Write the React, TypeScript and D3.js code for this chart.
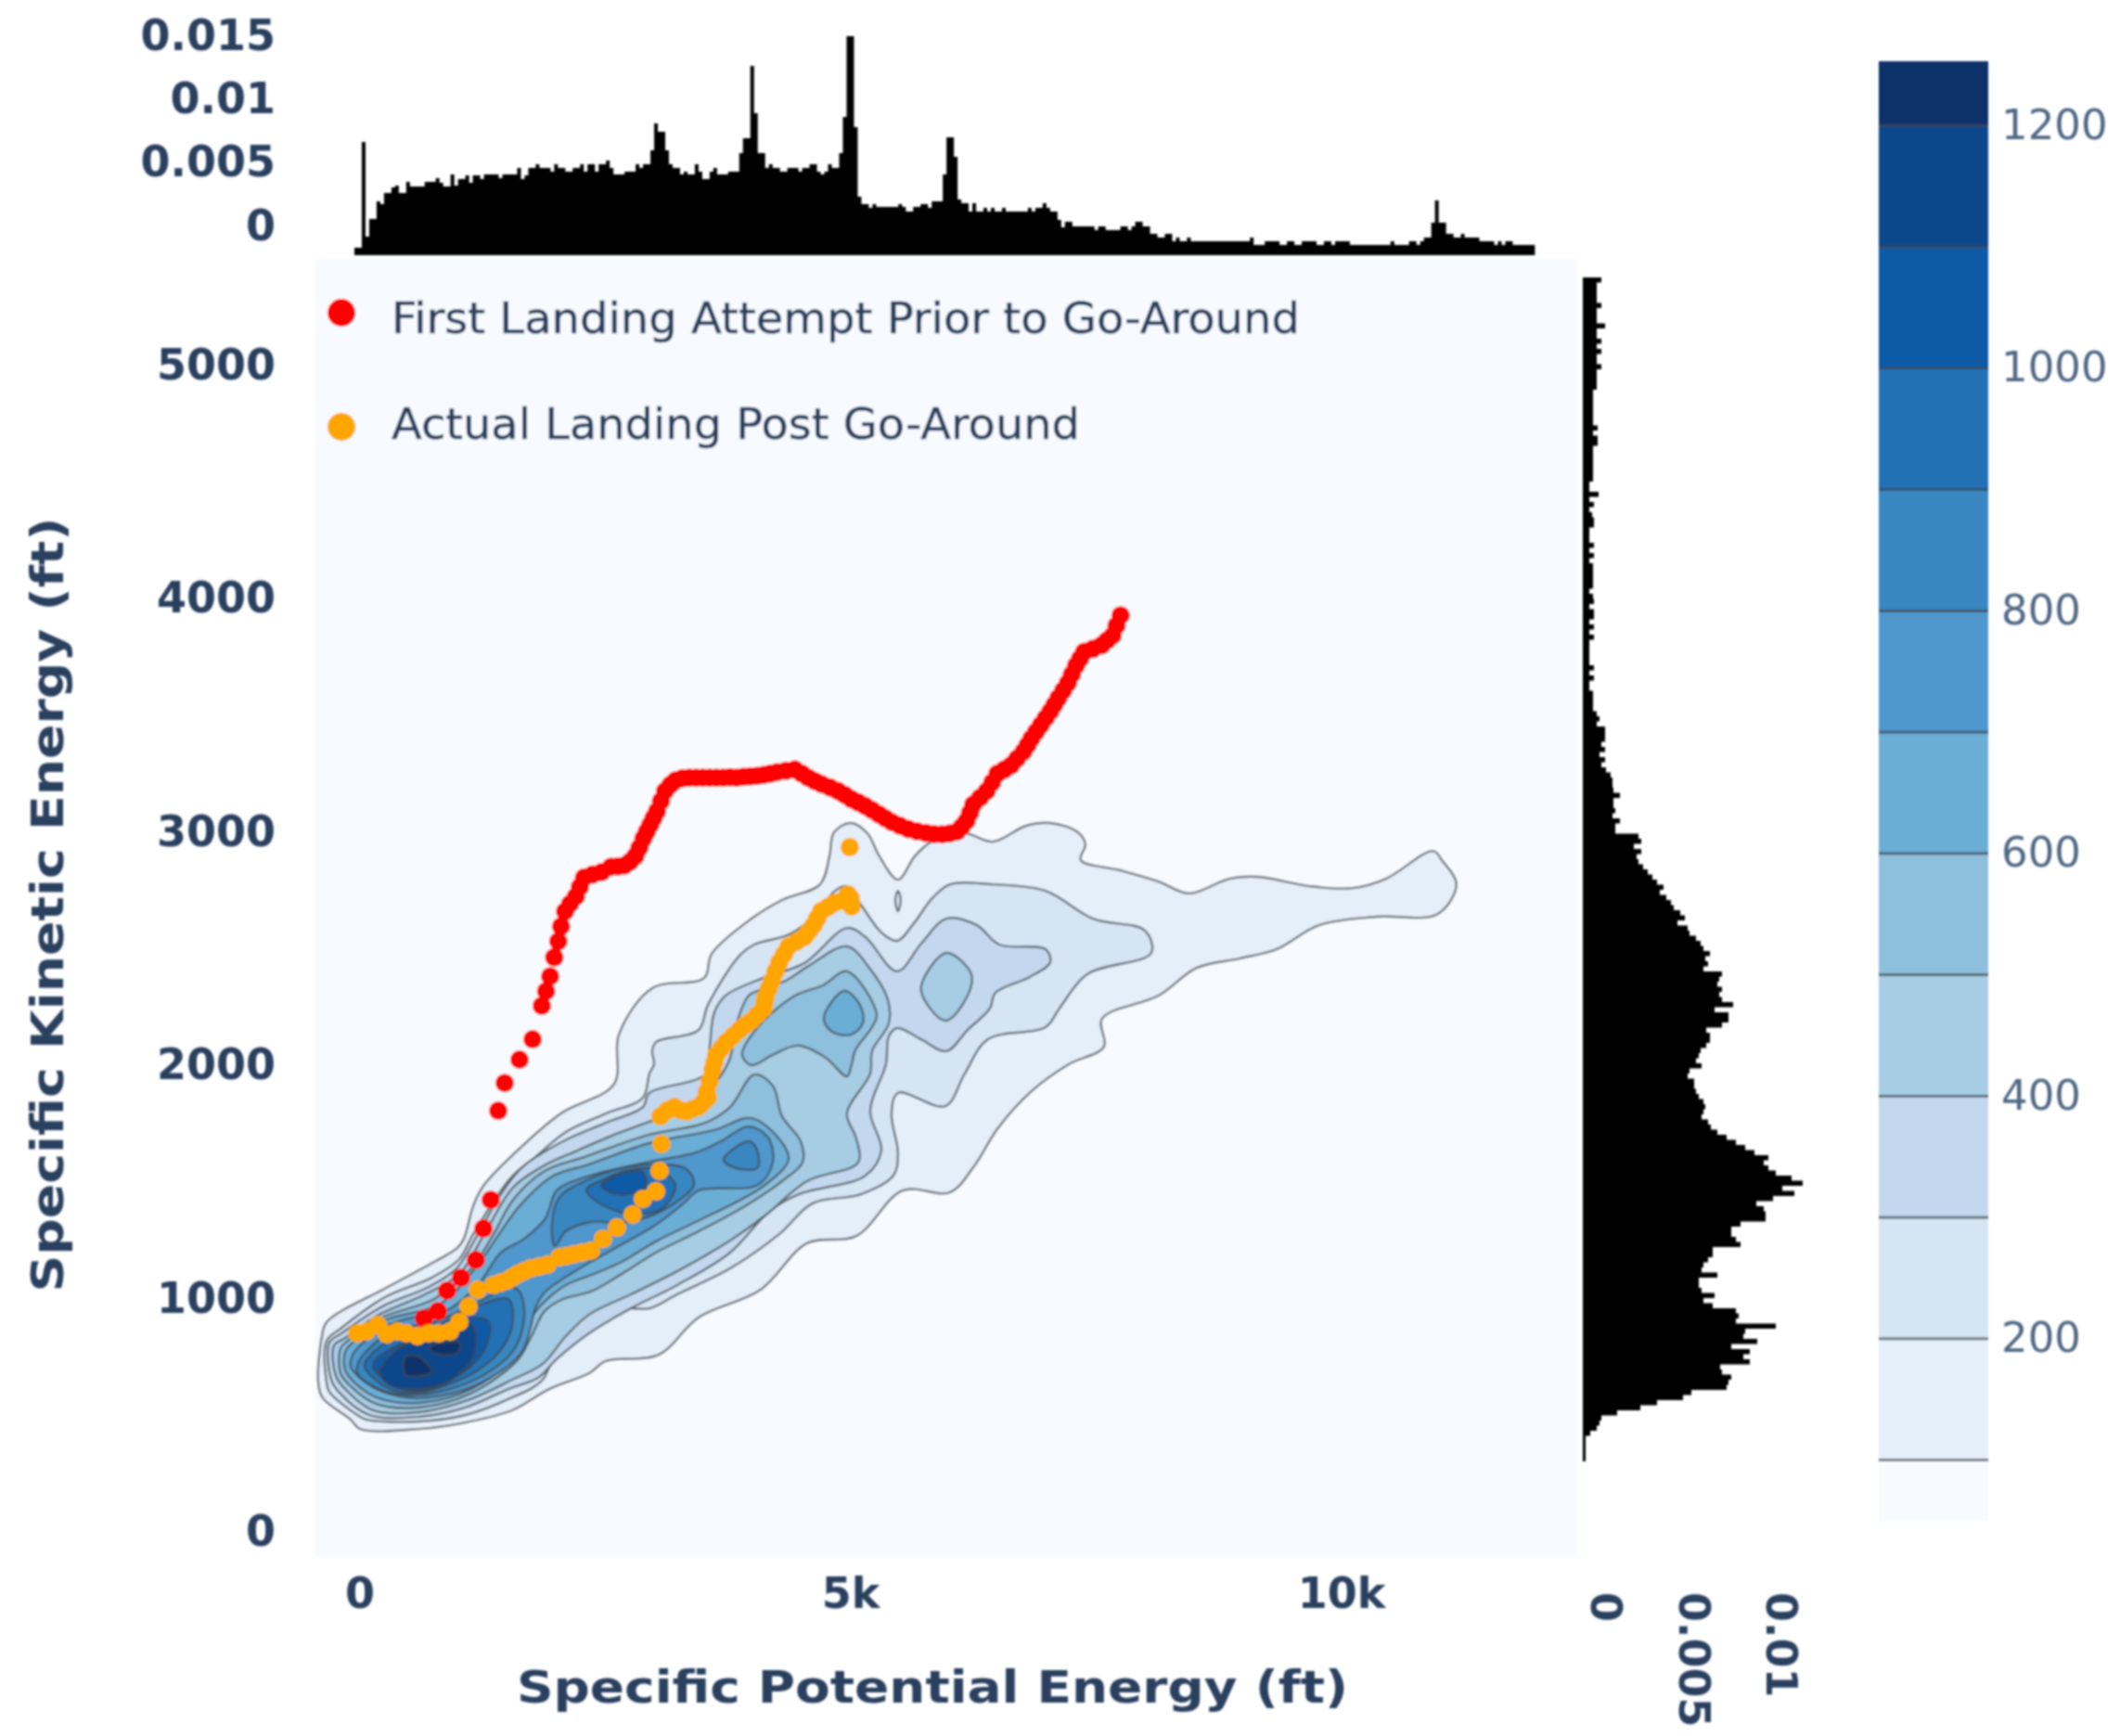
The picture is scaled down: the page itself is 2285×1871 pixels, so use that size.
import React from "react";
import * as d3 from "d3";

type P = [number, number];

// ---- contour levels and band colours (Blues)
const levels = [100, 200, 300, 400, 500, 600, 700, 800, 900, 1000, 1100, 1200];
const bandColors = ["#f7fbff", "#e4eff9", "#d5e5f4", "#c3d8ee", "#a6cde3", "#8ebfdc", "#6aaed6", "#5097cc", "#3787c0", "#2171b5", "#0f5aa6", "#08468b", "#08306b"];

// ---- traced contours, in (potential ft, kinetic ft)
const ring100: P[] = [[-425,628],[-387,827],[-340,887],[284,1038],[756,1145],[992,1205],[1058,1244],[1153,1384],[1257,1471],[1654,1642],[2060,1785],[2589,1908],[2637,2119],[2977,2318],[3506,2362],[3582,2465],[3988,2616],[4300,2696],[4687,2763],[4782,2883],[4829,2986],[4999,3026],[5169,2982],[5292,2883],[5481,2783],[5651,2883],[5821,2946],[6161,2982],[6445,2946],[6785,3014],[7031,3026],[7314,2986],[7390,2934],[7343,2867],[7749,2823],[8136,2775],[8448,2724],[8855,2787],[9148,2795],[9677,2755],[10112,2747],[10452,2787],[10934,2906],[11028,2863],[11170,2763],[10981,2636],[10357,2624],[9771,2588],[9337,2485],[8959,2445],[8524,2405],[8136,2286],[7560,2187],[7579,2067],[7220,1992],[6832,1873],[6492,1714],[6256,1555],[6010,1443],[5528,1451],[5056,1256],[4555,1225],[4082,1026],[3449,907],[3043,747],[2504,720],[2334,668],[1928,600],[1550,509],[1077,457],[605,429],[0,429],[-95,469],[-378,561]];
const ring200: P[] = [[-340,628],[-340,807],[-198,859],[255,994],[728,1077],[1011,1157],[1153,1264],[1531,1503],[1786,1594],[2098,1702],[2504,1781],[2882,1849],[2948,1952],[2996,1992],[2977,2048],[3015,2087],[3449,2139],[3544,2246],[3865,2457],[4016,2505],[4375,2549],[4649,2636],[4838,2735],[4961,2755],[5103,2676],[5311,2557],[5472,2521],[5642,2596],[5831,2704],[6010,2763],[6445,2763],[6984,2735],[7466,2616],[7995,2565],[8061,2469],[7409,2378],[7125,2231],[6984,2151],[6398,2099],[6161,1952],[5963,1813],[5481,1869],[5415,1781],[5481,1610],[5434,1515],[5103,1435],[4612,1396],[4271,1264],[3771,1117],[3232,1006],[2948,946],[2504,946],[2410,879],[2032,799],[1862,640],[1512,557],[1077,489],[605,461],[66,469],[-28,489],[-312,588]];
const ring200b: P[] = [[5481,2735],[5509,2696],[5481,2648],[5453,2696]];
const ring300: P[] = [[-293,640],[-312,799],[-189,839],[227,954],[699,1038],[983,1117],[1200,1264],[1436,1435],[1654,1551],[2070,1662],[2504,1741],[2882,1809],[2948,1869],[3515,1949],[3562,2067],[3610,2214],[3723,2286],[4110,2362],[4526,2425],[4961,2576],[5150,2537],[5472,2390],[5717,2509],[5973,2616],[6285,2588],[6511,2505],[6984,2485],[7031,2429],[6823,2366],[6473,2298],[6417,2231],[6190,2139],[5973,2048],[5717,2099],[5472,2147],[5387,2111],[5358,1992],[5198,1793],[5311,1623],[5150,1515],[4470,1435],[4176,1364],[3771,1185],[3232,1046],[2760,946],[2334,839],[2003,728],[1814,648],[1512,600],[1077,521],[605,481],[95,489],[-217,588]];
const ring400: P[] = [[-246,656],[-265,787],[-151,819],[189,918],[662,1006],[1011,1093],[1266,1264],[1559,1464],[1862,1555],[2211,1622],[2589,1690],[2967,1749],[3373,1809],[3657,1932],[3771,2020],[3846,2179],[3959,2286],[4101,2314],[4337,2350],[4583,2417],[4961,2497],[5188,2406],[5377,2270],[5387,2167],[5217,2048],[5198,1952],[4961,1781],[5056,1674],[5075,1571],[4555,1491],[4129,1344],[3771,1237],[3232,1105],[2760,1006],[2334,919],[2098,827],[1862,708],[1550,640],[1077,549],[605,501],[132,509],[-151,600]];
const ring400b: P[] = [[5717,2326],[5973,2469],[6228,2378],[6190,2286],[5973,2179],[5783,2246]];
const ring500: P[] = [[4016,1948],[4205,1901],[4300,1769],[4489,1662],[4508,1571],[4300,1491],[3922,1384],[3449,1276],[3015,1185],[2665,1093],[2353,1018],[2070,986],[1881,934],[1748,827],[1597,720],[1106,577],[605,521],[161,537],[-104,616],[-198,668],[-198,775],[-123,807],[227,907],[756,986],[1134,1117],[1361,1264],[1559,1411],[1881,1535],[2287,1595],[2948,1690],[3515,1741],[3771,1809]];
const ring500b: P[] = [[4961,2390],[5264,2207],[5216,2151],[5046,2052],[5009,1992],[4961,1940],[4744,2020],[4460,2072],[4205,2032],[3988,1988],[3893,2032],[4054,2151],[4432,2286],[4716,2330]];
const ring600: P[] = [[3988,1761],[4290,1662],[4366,1582],[4129,1475],[3846,1404],[3420,1316],[3015,1233],[2665,1145],[2381,1093],[2098,1046],[1909,986],[1767,919],[1550,736],[1134,600],[605,541],[189,561],[-57,628],[-151,680],[-151,759],[-76,799],[255,895],[822,966],[1200,1133],[1417,1264],[1625,1384],[1956,1511],[2334,1563],[2948,1654],[3610,1710]];
const ring600b: P[] = [[4725,2191],[4933,2306],[5094,2246],[5122,2167],[4999,2119],[4810,2131]];
const ring700: P[] = [[3960,1725],[4158,1678],[4205,1571],[4054,1475],[3449,1451],[3298,1396],[3015,1304],[2570,1197],[2192,1105],[1881,1014],[1786,946],[1739,867],[1644,756],[1200,620],[605,561],[227,589],[0,648],[-95,696],[-76,747],[0,787],[284,875],[539,907],[869,934],[1200,1046],[1436,1185],[1673,1245],[1890,1332],[1928,1372],[2003,1451],[2315,1511],[2948,1574],[3421,1614],[3676,1662]];
const ring800a: P[] = [[1956,1304],[2032,1423],[2287,1491],[2650,1545],[3015,1563],[3326,1543],[3402,1475],[3204,1396],[2920,1336],[2665,1312],[2353,1316],[2098,1276],[1985,1213]];
const ring800b: P[] = [[3704,1582],[3960,1662],[4035,1634],[4054,1551],[3865,1543]];
const ring800c: P[] = [[-28,668],[-9,720],[95,775],[350,855],[756,887],[1134,958],[1578,1034],[1673,946],[1578,775],[1172,640],[605,575],[255,590]];
const ring900a: P[] = [[2306,1455],[2504,1503],[2700,1535],[3015,1543],[3213,1475],[3071,1372],[2731,1352],[2410,1404]];
const ring900c: P[] = [[47,696],[95,740],[378,827],[756,867],[1134,946],[1512,986],[1559,907],[1484,799],[1200,680],[605,585],[302,600]];
const ring1000a: P[] = [[2457,1471],[2637,1520],[2882,1530],[2901,1463],[2637,1435]];
const ring1000c: P[] = [[132,696],[180,736],[444,799],[756,855],[1172,907],[1314,887],[1276,775],[1077,680],[605,592],[350,615]];
const ring1100: P[] = [[200,668],[380,770],[756,835],[1130,880],[1160,747],[900,630],[567,600],[340,610]];
const ring1200a: P[] = [[463,736],[586,740],[728,676],[473,660]];
const ring1200b: P[] = [[709,779],[1011,799],[992,755],[756,755]];

const contourRings: { level: number; ring: P[] }[] = [
  { level: 100, ring: ring100 }, { level: 200, ring: ring200 }, { level: 200, ring: ring200b },
  { level: 300, ring: ring300 }, { level: 400, ring: ring400 }, { level: 400, ring: ring400b },
  { level: 500, ring: ring500 }, { level: 500, ring: ring500b }, { level: 600, ring: ring600 }, { level: 600, ring: ring600b },
  { level: 700, ring: ring700 }, { level: 800, ring: ring800a }, { level: 800, ring: ring800b }, { level: 800, ring: ring800c },
  { level: 900, ring: ring900a }, { level: 900, ring: ring900c }, { level: 1000, ring: ring1000a }, { level: 1000, ring: ring1000c },
  { level: 1100, ring: ring1100 }, { level: 1200, ring: ring1200a }, { level: 1200, ring: ring1200b },
];

// ---- scatter series
const firstAttempt: P[] = [[652,903],[794,934],[888,1022],[1030,1077],[1181,1153],[1257,1288],[1332,1411],[1408,1793],[1474,1912],[1625,2012],[1758,2099],[1852,2243],[1896,2305],[1937,2369],[1979,2450],[2020,2519],[2048,2583],[2089,2647],[2140,2680],[2199,2711],[2240,2752],[2282,2792],[2370,2805],[2461,2815],[2557,2838],[2628,2840],[2695,2844],[2750,2860],[2805,2884],[2847,2920],[2888,2960],[2922,2990],[2956,3018],[2990,3047],[3025,3076],[3066,3120],[3108,3163],[3163,3190],[3218,3209],[3287,3218],[3356,3220],[3425,3220],[3493,3220],[3562,3220],[3631,3220],[3700,3220],[3770,3222],[3838,3220],[3907,3224],[3975,3226],[4044,3228],[4113,3232],[4182,3238],[4251,3244],[4340,3250],[4430,3255],[4500,3238],[4567,3220],[4636,3205],[4705,3192],[4790,3178],[4870,3163],[4940,3146],[5008,3128],[5077,3114],[5146,3099],[5215,3082],[5284,3064],[5352,3046],[5421,3029],[5503,3014],[5586,3000],[5675,2990],[5765,2983],[5848,2978],[5931,2977],[6007,2981],[6082,2989],[6130,3010],[6179,3035],[6215,3070],[6247,3105],[6316,3134],[6385,3163],[6440,3200],[6495,3238],[6564,3255],[6633,3273],[6695,3302],[6757,3331],[6800,3360],[6840,3388],[6888,3417],[6936,3446],[6984,3475],[7032,3504],[7074,3533],[7115,3562],[7163,3594],[7211,3626],[7252,3663],[7294,3701],[7335,3730],[7377,3759],[7466,3772],[7556,3788],[7611,3808],[7666,3829],[7707,3872],[7749,3916]];
const actualLanding: P[] = [[-28,839],[66,847],[180,875],[274,835],[378,847],[473,839],[586,827],[699,839],[803,839],[917,847],[1011,887],[1106,954],[1200,1026],[1361,1046],[1430,1056],[1503,1066],[1555,1080],[1607,1093],[1670,1105],[1739,1117],[1825,1125],[1909,1133],[2032,1165],[2100,1170],[2174,1177],[2260,1185],[2353,1193],[2476,1244],[2618,1292],[2778,1348],[2882,1415],[3015,1447],[3052,1535],[3071,1650],[3062,1769],[3133,1795],[3204,1809],[3265,1795],[3326,1789],[3388,1800],[3449,1809],[3497,1830],[3544,1849],[3534,1873],[3562,1920],[3591,1968],[3610,2000],[3629,2032],[3680,2060],[3733,2087],[3800,2113],[3865,2139],[3926,2160],[3988,2179],[4050,2205],[4111,2231],[4120,2255],[4130,2278],[4163,2315],[4196,2350],[4233,2390],[4271,2429],[4318,2463],[4366,2497],[4446,2517],[4527,2537],[4574,2563],[4621,2588],[4659,2618],[4697,2648],[4767,2666],[4838,2684],[4918,2694],[4970,2720],[4999,2704],[5009,2668],[4990,2922]];

// ---- marginal histogram counts per bin
const topCounts = [8,8,122,20,39,39,58,55,67,67,73,75,67,67,79,74,74,74,74,79,79,79,83,78,74,74,87,75,82,82,86,78,86,86,82,87,87,87,87,83,87,87,87,87,94,82,86,94,94,98,94,94,94,90,98,94,94,90,90,94,94,98,90,98,98,90,98,98,102,94,87,87,87,90,90,90,98,94,98,98,113,142,133,133,113,98,94,94,87,90,87,87,98,90,82,82,90,94,87,87,87,90,90,90,110,126,126,204,153,110,110,94,98,94,94,90,90,94,94,94,90,94,94,98,98,90,87,90,98,94,94,110,149,236,236,138,63,55,55,51,55,52,52,52,52,52,52,55,52,47,47,52,52,55,55,51,58,58,58,87,
  127,127,106,60,56,56,47,56,47,47,51,47,51,47,47,51,47,47,47,47,47,47,51,47,51,51,56,51,47,47,38,30,36,36,31,31,31,31,31,31,27,31,31,27,27,27,27,31,31,27,31,36,36,31,31,23,23,19,19,23,23,15,19,15,15,19,15,15,15,15,15,15,15,15,15,15,15,15,15,15,15,15,19,11,11,11,15,15,15,15,11,11,15,15,11,11,15,15,15,15,11,11,15,15,11,15,15,15,15,11,11,11,11,11,11,11,11,11,11,11,15,11,11,11,11,15,15,11,15,19,19,35,59,35,35,23,23,19,19,23,19,19,19,19,15,15,15,15,11,15,11,15,15,11,11,11,11,11,11];
const rightCounts = [20,15,15,15,15,20,15,15,15,24,15,15,20,15,20,15,15,20,15,15,15,15,11,11,11,11,11,11,11,16,11,16,16,11,11,11,11,11,11,11,7,7,17,7,12,7,10,12,12,7,7,7,12,7,12,7,11,11,11,11,11,7,11,12,7,12,12,7,12,7,12,7,7,7,7,7,12,7,12,7,7,11,11,11,11,15,18,15,24,24,24,20,24,18,24,20,25,30,32,32,33,40,33,33,35,32,40,35,35,60,63,55,63,58,60,65,70,75,80,87,83,90,95,98,105,110,102,113,115,122,127,130,137,132,135,130,150,147,145,150,147,150,
  162,142,157,157,150,133,137,137,133,127,125,122,128,115,113,120,120,122,125,130,132,130,128,135,138,145,155,165,175,185,200,195,200,208,225,237,215,228,205,187,195,197,197,170,160,160,165,170,140,140,135,130,128,145,125,125,128,142,130,140,165,168,165,208,175,173,188,160,180,173,180,148,150,160,157,155,117,108,80,62,37,20,18,15,8,3,3,3,3,3];
const topBinStart = -57;
const topBinWidth = 37.7;
const rightBinStart = 5364;
const rightBinHeight = 21.87;

// ---- tick labels
const xTicks = [0, 5000, 10000];
const xTickLabels = ["0", "5k", "10k"];
const yTicks = [0, 1000, 2000, 3000, 4000, 5000];
const topTicks = [0, 0.005, 0.01, 0.015];
const topTickLabels = ["0", "0.005", "0.01", "0.015"];
const rightTicks = [0, 0.005, 0.01];
const rightTickLabels = ["0", "0.005", "0.01"];
const colorbarTicks = [200, 400, 600, 800, 1000, 1200];
const legendItems = [
  { label: "First Landing Attempt Prior to Go-Around", color: "#ff0000" },
  { label: "Actual Landing Post Go-Around", color: "#ffa500" },
];

const W = 2285, H = 1871;
const FONT = "'DejaVu Sans', Verdana, sans-serif";
const AXIS = "#2a3f5f";
const LINE = "#40474f";

export default function App() {
  const x = d3.scaleLinear().domain([0, 10000]).range([388, 1446]);
  const y = d3.scaleLinear().domain([0, 5000]).range([1648, 390.5]);
  const topY = d3.scaleLinear().domain([0, 240]).range([275, 35]);
  const rightX = d3.scaleLinear().domain([0, 237]).range([1706, 1943]);
  const topLabelY = d3.scaleLinear().domain([0, 0.015]).range([242, 37]);
  const rightLabelX = d3.scaleLinear().domain([0, 0.01]).range([1732, 1921]);
  const cb = d3.scaleLinear().domain([50, 1253]).range([1639, 66]);
  const band = d3.scaleThreshold<number, string>().domain(levels).range(bandColors);
  const ring = d3.line<P>().x((d) => x(d[0])).y((d) => y(d[1])).curve(d3.curveCatmullRomClosed.alpha(0.5));

  const topSeries = [...topCounts, topCounts[topCounts.length - 1]];
  const topArea = d3.area<number>()
    .x((_, i) => x(topBinStart + i * topBinWidth))
    .y0(topY(0))
    .y1((v) => topY(v))
    .curve(d3.curveStepAfter);
  const rightSeries = [...rightCounts, rightCounts[rightCounts.length - 1]];
  const rightArea = d3.area<number>()
    .y((_, i) => y(rightBinStart - i * rightBinHeight))
    .x0(rightX(0))
    .x1((v) => rightX(v))
    .curve(d3.curveStepBefore);

  const cbEdges = [50, ...levels, 1253];

  return (
    <svg width={W} height={H} viewBox={`0 0 ${W} ${H}`} style={{ position: "absolute", left: 0, top: 0, background: "#fff" }} fontFamily={FONT}>
      <defs>
        <filter id="soft" filterUnits="userSpaceOnUse" x={0} y={0} width={W} height={H}>
          <feGaussianBlur stdDeviation={0.9} />
        </filter>
      </defs>
      <g filter="url(#soft)">
        {/* main panel */}
        <rect x={339} y={279} width={1361} height={1399} fill={bandColors[0]} />
        {contourRings.map((c, i) => (
          <path key={i} d={ring(c.ring) as string} fill={band(c.level)} stroke={LINE} strokeOpacity={0.75} strokeWidth={2.4} />
        ))}
        {firstAttempt.map((d, i) => <circle key={i} cx={x(d[0])} cy={y(d[1])} r={10} fill={legendItems[0].color} />)}
        {actualLanding.map((d, i) => <circle key={i} cx={x(d[0])} cy={y(d[1])} r={10} fill={legendItems[1].color} />)}

        {/* legend */}
        {legendItems.map((l, i) => (
          <g key={l.label}>
            <circle cx={368} cy={i === 0 ? 337 : 460} r={15} fill={l.color} />
            <text x={422} y={i === 0 ? 359 : 473} fontSize={47} fill={AXIS} stroke={AXIS} strokeWidth={0.5} textLength={i === 0 ? 979 : 742} lengthAdjust="spacingAndGlyphs">{l.label}</text>
          </g>
        ))}

        {/* top marginal */}
        <path d={topArea(topSeries) as string} fill="#000" />
        {topTicks.map((t, i) => (
          <text key={t} x={297} y={topLabelY(t)} dy="0.36em" textAnchor="end" fontSize={46} fontWeight="bold" fill={AXIS}>{topTickLabels[i]}</text>
        ))}

        {/* right marginal */}
        <path d={rightArea(rightSeries) as string} fill="#000" />
        {rightTicks.map((t, i) => (
          <text key={t} transform={`translate(${rightLabelX(t)},1716) rotate(90)`} dy="0.36em" fontSize={46} fontWeight="bold" fill={AXIS}>{rightTickLabels[i]}</text>
        ))}

        {/* axes */}
        {xTicks.map((t, i) => (
          <text key={t} x={x(t)} y={1716} dy="0.36em" textAnchor="middle" fontSize={46} fontWeight="bold" fill={AXIS}>{xTickLabels[i]}</text>
        ))}
        {yTicks.map((t) => (
          <text key={t} x={297} y={y(t) + 1.5} dy="0.36em" textAnchor="end" fontSize={46} fontWeight="bold" fill={AXIS}>{t}</text>
        ))}
        <text x={1005} y={1818} dy="0.36em" textAnchor="middle" fontSize={48} fontWeight="bold" fill={AXIS} textLength={896} lengthAdjust="spacingAndGlyphs">Specific Potential Energy (ft)</text>
        <text transform="translate(51,975) rotate(-90)" dy="0.36em" textAnchor="middle" fontSize={48} fontWeight="bold" fill={AXIS} textLength={835} lengthAdjust="spacingAndGlyphs">Specific Kinetic Energy (ft)</text>

        {/* colour bar */}
        {bandColors.map((c, i) => (
          <rect key={c} x={2025} y={cb(cbEdges[i + 1])} width={118} height={cb(cbEdges[i]) - cb(cbEdges[i + 1]) + 0.5} fill={c} />
        ))}
        {levels.map((l) => (
          <line key={l} x1={2025} x2={2143} y1={cb(l)} y2={cb(l)} stroke={LINE} strokeOpacity={0.8} strokeWidth={2.6} />
        ))}
        {colorbarTicks.map((t) => (
          <text key={t} x={2157} y={cb(t) - 2} dy="0.36em" fontSize={45} fill="#506784">{t}</text>
        ))}
      </g>
    </svg>
  );
}
